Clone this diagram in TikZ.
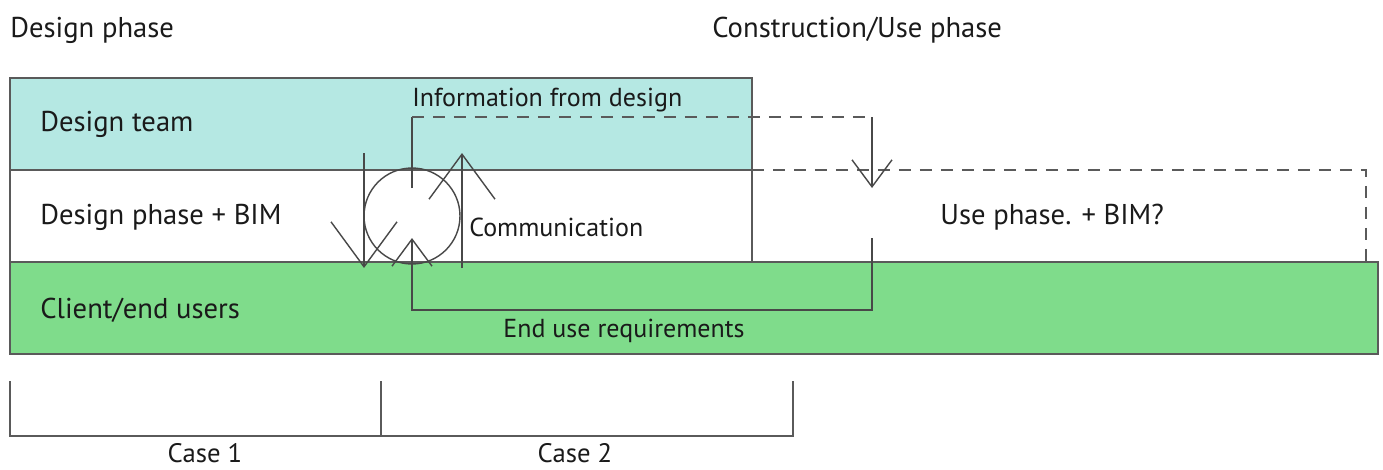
\documentclass[tikz,border=0pt]{standalone}
\usepackage{fontspec}
\setmainfont{PT Sans}
\usetikzlibrary{arrows.meta}
\definecolor{teamcyan}{HTML}{B5E8E3}
\definecolor{clientgreen}{HTML}{7FDC8B}
\definecolor{edge}{HTML}{5A5A5A}
\definecolor{ink}{HTML}{1A1A1A}
\tikzset{
  band/.style={draw=edge, line width=1.2pt},
  lbl/.style={font=\fontsize{16.3}{19}\selectfont, text=ink, inner sep=0pt},
  flbl/.style={font=\fontsize{14.8}{17}\selectfont, text=ink, inner sep=0pt},
  clbl/.style={font=\fontsize{15.2}{17}\selectfont, text=ink, inner sep=0pt},
  flow/.style={draw=ink!80, line width=0.8pt},
  dflow/.style={draw=edge, line width=1.1pt, dash pattern=on 0.24cm off 0.18cm},
  bigbarb/.style={-{Straight Barb[length=0.9cm, width=1.32cm]}},
  smallbarb/.style={-{Straight Barb[length=0.54cm, width=0.8cm]}},
}
\begin{document}
\begin{tikzpicture}[x=0.02cm,y=-0.02cm]
\useasboundingbox (0,0) rectangle (1383,470);
% bands
\path[band, fill=clientgreen] (10,262) rectangle (1378,354);
\path[band, fill=teamcyan] (10,78) rectangle (752,170);
\path[band, fill=white] (10,170) rectangle (752,262);
\draw[dflow] (752,170) -- (1366,170) -- (1366,262);
% headings
\node[lbl, anchor=west] (hdesign) at (10,30) {Design phase};
\node[lbl, anchor=west] (hcons) at (712,30) {Construction/Use phase};
\node[lbl, anchor=west] (team) at (40,124) {Design team};
\node[lbl, anchor=west] (dbim) at (40,217) {Design phase + BIM};
\node[lbl, anchor=west] (client) at (40,310) {Client/end users};
\node[lbl, anchor=west] (usebim) at (940,217) {Use phase. + BIM?};
\node[flbl, anchor=west] (info) at (412,100) {Information from design};
\node[flbl, anchor=west] (comm) at (469,227) {Communication};
\node[flbl, anchor=west] (req) at (503,331) {End use requirements};
% communication circle
\node[circle, draw=ink!80, line width=0.8pt, minimum size=1.92cm, inner sep=0pt] (circ) at (412,216) {};
% coordinates
\coordinate (infoS) at (412,188);
\coordinate (infoC1) at (412,117);
\coordinate (infoC2) at (872,117);
\coordinate (infoE) at (872,188);
\coordinate (reqS) at (872,238);
\coordinate (reqC1) at (872,310);
\coordinate (reqC2) at (412,310);
\coordinate (reqE) at (412,238);
\coordinate (dnS) at (364,153);
\coordinate (dnE) at (364,268);
\coordinate (upS) at (462,268);
\coordinate (upE) at (462,153);
% flows
\draw[flow] (infoS) -- (infoC1);
\draw[dflow] (infoC1) -- (infoC2);
\draw[flow, smallbarb] (infoC2) -- (infoE);
\draw[flow, smallbarb] (reqS) -- (reqC1) -- (reqC2) -- (reqE);
\draw[flow, bigbarb] (dnS) -- (dnE);
\draw[flow, bigbarb] (upS) -- (upE);
% cases bracket
\coordinate (b1) at (10,381);
\coordinate (b2) at (381,381);
\coordinate (b3) at (793,381);
\draw[draw=edge, line width=0.8pt] (b1) -- (10,436) -- (793,436) -- (b3);
\draw[draw=edge, line width=0.8pt] (b2) -- (381,436);
\node[clbl] (case1) at (205,453) {Case 1};
\node[clbl] (case2) at (575,453) {Case 2};
\end{tikzpicture}
\end{document}
